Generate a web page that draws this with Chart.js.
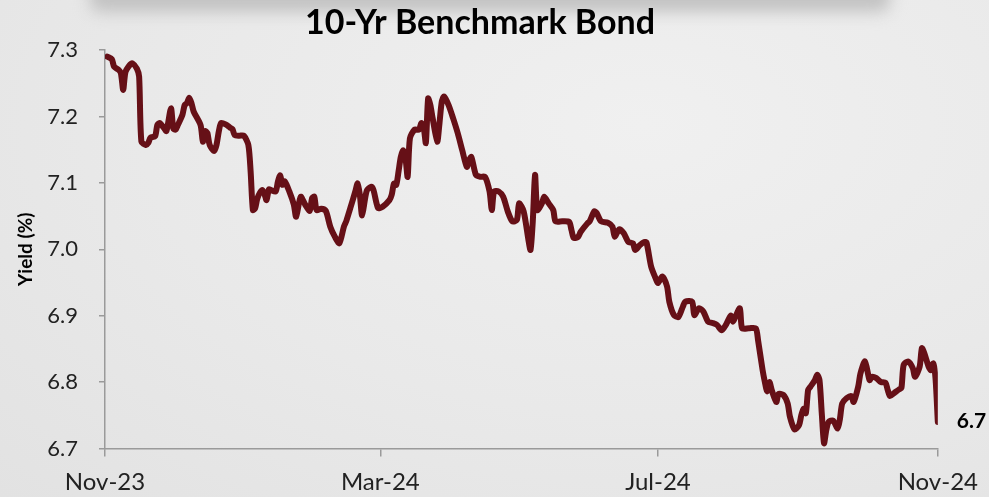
<!DOCTYPE html>
<html>
<head>
<meta charset="utf-8">
<script src="https://cdn.jsdelivr.net/npm/chart.js@4.4.1/dist/chart.umd.min.js"></script>
<style>
  html, body { margin: 0; padding: 0; }
  body {
    width: 989px; height: 497px; overflow: hidden; position: relative;
    background: radial-gradient(ellipse at 65% 25%, #f0f0f0 0%, #e9e9e9 55%, #e2e2e2 100%);
  }
  #shade {
    position: absolute; left: 90px; top: -20px; width: 800px; height: 32px;
    background: #c2c2c2; filter: blur(8px); border-radius: 10px;
  }
  #wrap { position: absolute; left: 0; top: 0; width: 989px; height: 497px; }
</style>
</head>
<body>
<div id="shade"></div>
<div id="wrap"><canvas id="myChart" width="989" height="497"></canvas></div>
<script>
// days counted from 1-Nov-2023
const days = [1, 3, 4, 6, 7, 8, 9, 11, 12, 14, 15, 16, 18, 19, 20, 22, 23, 24, 26, 27,
  29, 30, 31, 32, 34, 35, 36, 37, 38, 39, 42, 43, 44, 45, 46, 48, 49, 50, 51, 53,
  55, 56, 57, 59, 61, 63, 64, 65, 66, 67, 69, 70, 71, 72, 73, 75, 76, 77, 78, 79,
  81, 83, 84, 86, 88, 90, 91, 92, 93, 95, 97, 99, 101, 103, 105, 106, 108, 110, 111, 112,
  113, 115, 117, 118, 120, 122, 125, 126, 127, 128, 129, 130, 131, 132, 133, 134, 136, 138, 139, 140,
  141, 142, 143, 144, 146, 147, 148, 149, 151, 153, 155, 157, 159, 160, 161, 163, 165, 167, 169, 170,
  171, 173, 175, 177, 179, 181, 182, 184, 186, 187, 188, 189, 190, 192, 193, 195, 197, 198, 201, 204,
  205, 206, 208, 209, 212, 213, 215, 216, 218, 221, 223, 224, 226, 228, 230, 232, 233, 235, 237, 238,
  240, 242, 243, 245, 247, 248, 250, 252, 254, 255, 258, 259, 261, 263, 265, 267, 269, 271, 273, 275,
  276, 277, 279, 280, 283, 286, 287, 289, 290, 291, 292, 293, 295, 296, 298, 300, 301, 303, 305, 306,
  307, 308, 309, 310, 312, 313, 314, 315, 316, 317, 318, 320, 322, 323, 324, 326, 328, 329, 331, 332,
  334, 336, 337, 339, 341, 343, 344, 345, 347, 349, 350, 351, 353, 355, 356, 358, 359, 360, 362, 363,
  364, 365, 366];
const yields = [7.29, 7.286, 7.275, 7.27, 7.265, 7.24, 7.267, 7.278, 7.28, 7.272, 7.26, 7.162, 7.157, 7.16, 7.168, 7.17, 7.187, 7.19, 7.182, 7.178,
  7.212, 7.182, 7.18, 7.187, 7.202, 7.217, 7.22, 7.228, 7.22, 7.207, 7.187, 7.162, 7.178, 7.175, 7.157, 7.148, 7.157, 7.177, 7.19, 7.188,
  7.183, 7.181, 7.172, 7.171, 7.171, 7.157, 7.117, 7.059, 7.062, 7.077, 7.089, 7.084, 7.074, 7.09, 7.089, 7.087, 7.102, 7.111, 7.097, 7.102,
  7.087, 7.067, 7.049, 7.079, 7.067, 7.058, 7.077, 7.079, 7.059, 7.061, 7.058, 7.034, 7.019, 7.009, 7.034, 7.042, 7.064, 7.087, 7.099, 7.082,
  7.051, 7.088, 7.094, 7.089, 7.062, 7.064, 7.074, 7.082, 7.099, 7.097, 7.117, 7.139, 7.149, 7.139, 7.109, 7.167, 7.18, 7.18, 7.19, 7.185,
  7.16, 7.227, 7.217, 7.197, 7.162, 7.19, 7.222, 7.23, 7.217, 7.197, 7.175, 7.149, 7.124, 7.134, 7.139, 7.112, 7.109, 7.109, 7.087, 7.059,
  7.087, 7.087, 7.079, 7.057, 7.042, 7.044, 7.069, 7.057, 7.016, 6.999, 7.042, 7.112, 7.059, 7.069, 7.079, 7.069, 7.059, 7.042, 7.042, 7.041,
  7.029, 7.017, 7.019, 7.026, 7.039, 7.042, 7.057, 7.055, 7.042, 7.04, 7.034, 7.019, 7.03, 7.024, 7.011, 7.009, 6.999, 7.006, 7.011, 7.01,
  6.974, 6.956, 6.949, 6.959, 6.944, 6.921, 6.901, 6.898, 6.914, 6.921, 6.921, 6.901, 6.911, 6.906, 6.891, 6.889, 6.886, 6.878, 6.887, 6.9,
  6.891, 6.898, 6.911, 6.881, 6.881, 6.881, 6.863, 6.818, 6.8, 6.786, 6.8, 6.788, 6.77, 6.782, 6.781, 6.768, 6.748, 6.729, 6.735, 6.75,
  6.76, 6.753, 6.788, 6.793, 6.803, 6.811, 6.803, 6.753, 6.708, 6.728, 6.74, 6.742, 6.73, 6.745, 6.768, 6.776, 6.779, 6.77, 6.793, 6.813,
  6.831, 6.803, 6.808, 6.806, 6.8, 6.799, 6.788, 6.779, 6.784, 6.789, 6.791, 6.826, 6.831, 6.821, 6.808, 6.823, 6.851, 6.844, 6.823, 6.818,
  6.828, 6.805, 6.74];

const tickDays = [0, 121, 243, 366];
const tickLabels = ["Nov-23", "Mar-24", "Jul-24", "Nov-24"];
const yMin = 6.7, yMax = 7.3, yStep = 0.1;

const titleText = "10-Yr Benchmark Bond";
const axisTitle = "Yield (%)";
const lineColor = "#661017";
const axisColor = "#9a9a9a";
const labelFont = "Lato, 'Open Sans', sans-serif";

const points = days.map((d, i) => ({ x: d, y: yields[i] }));

// title and end value label
const extras = {
  id: "extras",
  afterDraw(chart) {
    const c = chart.ctx;
    c.save();
    c.fillStyle = "#000";
    c.font = "bold 34px " + labelFont;
    c.textAlign = "center";
    c.textBaseline = "middle";
    c.fillText(titleText, 480, 23);

    const xs = chart.scales.x, ys = chart.scales.y;
    const last = yields[yields.length - 1];
    c.font = "bold 21px " + labelFont;
    c.textAlign = "left";
    c.fillText(last.toFixed(1), xs.getPixelForValue(days[days.length - 1]) + 19, ys.getPixelForValue(last) - 1);
    c.restore();
  }
};

const ctx = document.getElementById("myChart");
new Chart(ctx, {
  type: "line",
  data: {
    datasets: [{
      data: points,
      borderColor: lineColor,
      borderWidth: 6,
      pointRadius: 0,
      tension: 0.25,
      borderJoinStyle: "round",
      borderCapStyle: "round",
    }],
  },
  options: {
    responsive: false,
    animation: false,
    layout: { padding: { top: 50, right: 51, left: 0, bottom: 0 } },
    plugins: { legend: { display: false }, tooltip: { enabled: false } },
    scales: {
      x: {
        type: "linear",
        min: tickDays[0],
        max: tickDays[tickDays.length - 1],
        afterBuildTicks: (s) => { s.ticks = tickDays.map(v => ({ value: v })); },
        afterFit: (s) => { s.height = 48.5; },
        grid: { drawOnChartArea: false, drawTicks: true, tickLength: 8, color: axisColor, lineWidth: 1.5 },
        border: { color: axisColor, width: 1.5 },
        ticks: {
          autoSkip: false, maxRotation: 0, padding: 11, color: "#222",
          font: { family: labelFont, size: 24 },
          callback: (v) => tickLabels[tickDays.indexOf(v)],
        },
      },
      y: {
        min: yMin,
        max: yMax,
        afterFit: (s) => { s.width = 105; },
        grid: { drawOnChartArea: false, drawTicks: true, tickLength: 6, color: axisColor, lineWidth: 1.5 },
        border: { color: axisColor, width: 1.5 },
        title: { display: true, text: axisTitle, color: "#000", font: { family: labelFont, size: 19, weight: "bold" }, padding: { top: 14 } },
        ticks: {
          stepSize: yStep, padding: 21, color: "#222",
          font: { family: labelFont, size: 22 },
          callback: (v) => Number(v).toFixed(1),
        },
      },
    },
  },
  plugins: [extras],
});
</script>
</body>
</html>
